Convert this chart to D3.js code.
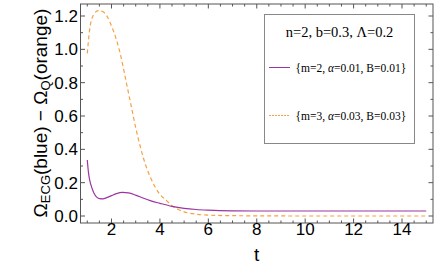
<!DOCTYPE html>
<html><head><meta charset="utf-8">
<script src="https://cdn.jsdelivr.net/npm/d3@7"></script>
<style>body{margin:0;background:#fff}svg{display:block}</style>
</head><body>
<svg id="c" width="436" height="273"></svg>
<script>
// data
const tPurple = [1.0,1.05,1.1,1.2,1.3,1.4,1.5,1.65,1.8,2.0,2.2,2.45,2.7,3.0,3.3,3.6,4.0,4.5,5.0,5.5,6.0,7.0,8.0,10,12,15];
const vPurple = [0.336,0.26,0.215,0.165,0.13,0.112,0.104,0.103,0.11,0.122,0.134,0.142,0.139,0.125,0.108,0.092,0.076,0.058,0.046,0.039,0.035,0.031,0.030,0.030,0.030,0.030];
const tOrange = [1.0,1.1,1.25,1.45,1.65,1.85,2.0,2.2,2.4,2.6,2.8,3.0,3.2,3.4,3.6,3.8,4.0,4.25,4.5,4.75,5.0,5.5,6.0,7.0,8.0,10,15];
const vOrange = [0.976,1.12,1.205,1.232,1.225,1.19,1.14,1.06,0.95,0.81,0.67,0.53,0.41,0.31,0.235,0.175,0.13,0.095,0.062,0.04,0.025,0.011,0.005,0.002,0.001,0,0];
const xTicks = [2,4,6,8,10,12,14];
const yTicks = [0.0,0.2,0.4,0.6,0.8,1.0,1.2];
const legendTitle = "n=2, b=0.3, Λ=0.2";
const legendItems = [["2","0.01","0.01"],["3","0.03","0.03"]];

const svg = d3.select("#c");
const L=80.5, R=433, T=4, B=223;
const x = d3.scaleLinear().domain([0.72,15.28]).range([L,R]);
const y = d3.scaleLinear().domain([-0.042,1.272]).range([B,T]);
const purple = "#9a36a0", orange = "#f7a040", frame="#555";

// frame
svg.append("rect").attr("x",L).attr("y",T).attr("width",R-L).attr("height",B-T)
  .attr("fill","none").attr("stroke",frame).attr("stroke-width",1);

// ticks (inward, all four sides)
const xMinor = d3.range(1,15.01,0.5).filter(v=>!xTicks.includes(v));
const yMinor = d3.range(0,1.25,0.1).map(v=>+v.toFixed(1)).filter(v=>!yTicks.includes(v));
const tk = svg.append("g").attr("stroke",frame).attr("stroke-width",1);
function xt(vals,len){vals.forEach(v=>{const px=x(v);
  tk.append("line").attr("x1",px).attr("x2",px).attr("y1",B).attr("y2",B-len);
  tk.append("line").attr("x1",px).attr("x2",px).attr("y1",T).attr("y2",T+len);});}
function yt(vals,len){vals.forEach(v=>{const py=y(v);
  tk.append("line").attr("y1",py).attr("y2",py).attr("x1",L).attr("x2",L+len);
  tk.append("line").attr("y1",py).attr("y2",py).attr("x1",R).attr("x2",R-len);});}
xt(xTicks,4.5); xt(xMinor,2.5); yt(yTicks,4.5); yt(yMinor,2.5);

// tick labels
const lab = svg.append("g").attr("font-family","Liberation Sans, Arial, sans-serif").attr("font-size",17).attr("fill","#000");
xTicks.forEach(v=>lab.append("text").attr("x",x(v)).attr("y",235).attr("text-anchor","middle").text(v));
yTicks.forEach(v=>lab.append("text").attr("x",78).attr("y",y(v)+6).attr("text-anchor","end").text(v.toFixed(1)));

// axis titles
svg.append("text").attr("x",x(8)).attr("y",261).attr("text-anchor","middle")
  .attr("font-family","Liberation Sans, Arial, sans-serif").attr("font-size",19).text("t");
const yl = svg.append("text").attr("transform","translate(47,113) rotate(-90)").attr("text-anchor","middle")
  .attr("font-family","Liberation Sans, Arial, sans-serif").attr("font-size",19);
yl.append("tspan").text("Ω");
yl.append("tspan").attr("font-size",13).attr("dy",3).text("ECG");
yl.append("tspan").attr("dy",-3).text("(blue) − Ω");
yl.append("tspan").attr("font-size",13).attr("dy",3).text("Q");
yl.append("tspan").attr("dy",-3).text("(orange)");

// curves
const clip = svg.append("clipPath").attr("id","cp").append("rect").attr("x",L).attr("y",T).attr("width",R-L).attr("height",B-T);
const line = d3.line().x(d=>x(d[0])).y(d=>y(d[1])).curve(d3.curveMonotoneX);
svg.append("path").datum(d3.zip(tOrange,vOrange)).attr("d",line).attr("fill","none")
  .attr("stroke",orange).attr("stroke-width",1.2).attr("stroke-dasharray","4,3").attr("clip-path","url(#cp)");
svg.append("path").datum(d3.zip(tPurple,vPurple)).attr("d",line).attr("fill","none")
  .attr("stroke",purple).attr("stroke-width",1.2).attr("clip-path","url(#cp)");

// legend
const lg = svg.append("g");
lg.append("rect").attr("x",264.5).attr("y",14.5).attr("width",150).attr("height",129)
  .attr("fill","#fff").attr("stroke","#888").attr("stroke-width",1);
lg.append("text").attr("x",339.5).attr("y",36.5).attr("text-anchor","middle")
  .attr("font-family","Liberation Serif, Times New Roman, serif").attr("font-size",14.5).text(legendTitle);
const ly=[67.5,115.5];
legendItems.forEach((it,i)=>{
  lg.append("line").attr("x1",269).attr("x2",290).attr("y1",ly[i]).attr("y2",ly[i])
    .attr("stroke",i?orange:purple).attr("stroke-width",1).attr("stroke-dasharray",i?"2,1":null);
  const t=lg.append("text").attr("x",295.5).attr("y",ly[i]+4)
    .attr("font-family","Liberation Serif, Times New Roman, serif").attr("font-size",11.5);
  t.append("tspan").text(`{m=${it[0]}, `);
  t.append("tspan").attr("font-style","italic").text("α");
  t.append("tspan").text(`=${it[1]}, B=${it[2]}}`);
});
</script>
</body></html>
